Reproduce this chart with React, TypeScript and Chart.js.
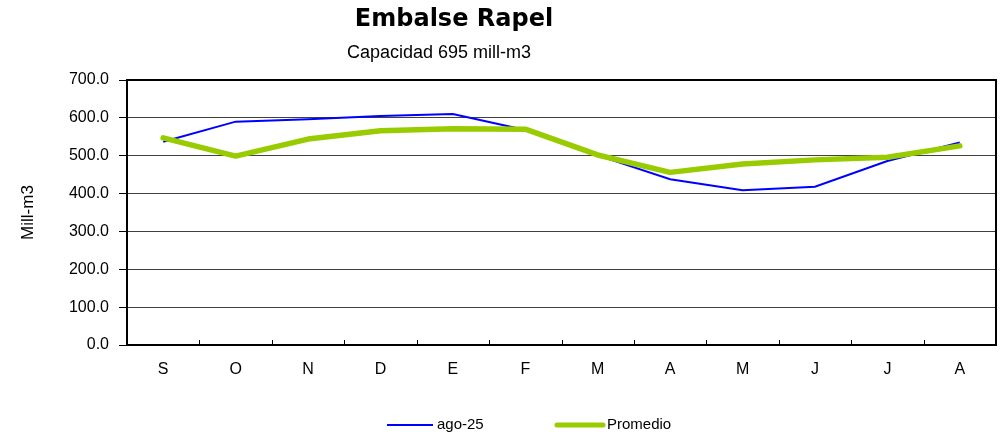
import React, { useEffect, useRef } from "react";
import { Chart, registerables } from "chart.js";

Chart.register(...registerables);

const categories = ["S", "O", "N", "D", "E", "F", "M", "A", "M", "J", "J", "A"];
const seriesActual = [537, 590, 596, 605, 610, 568, 501, 438, 409, 418, 486, 535];
const seriesPromedio = [547, 499, 544, 566, 571, 570, 502, 456, 478, 489, 496, 526];
const seriesLabels = ["ago-25", "Promedio"];
const yMin = 0;
const yMax = 700;
const yStep = 100;
const titleText = "Embalse Rapel";
const subtitleText = "Capacidad 695 mill-m3";
const yAxisTitle = "Mill-m3";

const SANS = '"Liberation Sans", Arial, sans-serif';

const decorPlugin = {
  id: "decor",
  afterDraw(chart: any) {
    const { ctx, chartArea } = chart;
    const { left, right, top, bottom } = chartArea;
    ctx.save();
    // frame top/right
    ctx.strokeStyle = "#000";
    ctx.lineWidth = 2;
    ctx.beginPath();
    ctx.moveTo(left, top);
    ctx.lineTo(right, top);
    ctx.lineTo(right, bottom);
    ctx.stroke();
    // inner category ticks
    const xs = chart.scales.x;
    ctx.lineWidth = 1;
    ctx.beginPath();
    for (let i = 1; i < categories.length; i++) {
      const x = Math.round((xs.getPixelForValue(i - 1) + xs.getPixelForValue(i)) / 2) + 0.5;
      ctx.moveTo(x, bottom - 5);
      ctx.lineTo(x, bottom);
    }
    ctx.stroke();
    // titles
    ctx.fillStyle = "#000";
    ctx.textAlign = "center";
    ctx.textBaseline = "middle";
    ctx.font = 'bold 24px "DejaVu Sans", sans-serif';
    ctx.fillText(titleText, 454, 20);
    ctx.font = "18px " + SANS;
    ctx.fillText(subtitleText, 439, 53);
    // legend
    const ds = chart.data.datasets;
    const items = [
      { x0: 387, x1: 433, tx: 437 },
      { x0: 557, x1: 603, tx: 607 },
    ];
    ctx.font = "15px " + SANS;
    ctx.textAlign = "left";
    items.forEach((it, i) => {
      ctx.strokeStyle = ds[i].borderColor;
      ctx.lineWidth = i === 0 ? 2 : 5;
      ctx.lineCap = i === 0 ? "butt" : "round";
      ctx.beginPath();
      ctx.moveTo(it.x0, 425);
      ctx.lineTo(it.x1, 425);
      ctx.stroke();
      ctx.fillStyle = "#000";
      ctx.fillText(ds[i].label, it.tx, 425);
    });
    ctx.restore();
  },
};

export default function App() {
  const ref = useRef<HTMLCanvasElement>(null);
  useEffect(() => {
    if (!ref.current) return;
    const chart = new Chart(ref.current, {
      type: "line",
      data: {
        labels: categories,
        datasets: [
          {
            label: seriesLabels[0],
            data: seriesActual,
            borderColor: "#0000FF",
            borderWidth: 2,
            pointRadius: 0,
            tension: 0,
            order: 1,
          },
          {
            label: seriesLabels[1],
            data: seriesPromedio,
            borderColor: "#99CC00",
            borderWidth: 5.5,
            borderCapStyle: "round",
            borderJoinStyle: "round",
            pointRadius: 0,
            tension: 0,
            order: 0,
          },
        ],
      },
      options: {
        animation: false,
        responsive: true,
        maintainAspectRatio: false,
        layout: { padding: { top: 80, right: 9, bottom: 0, left: 0 } },
        plugins: {
          legend: { display: false },
          title: { display: false },
          tooltip: { enabled: false },
        },
        scales: {
          x: {
            type: "category",
            offset: true,
            grid: { display: false, drawTicks: false },
            border: { display: true, color: "#000", width: 2 },
            ticks: { color: "#000", font: { family: SANS, size: 16 }, padding: 15, maxRotation: 0 },
            afterFit: (s: any) => {
              s.height = 87;
            },
          },
          y: {
            min: yMin,
            max: yMax,
            ticks: {
              stepSize: yStep,
              color: "#000",
              font: { family: SANS, size: 16 },
              padding: 10,
              callback: (v: any) => Number(v).toFixed(1),
            },
            grid: { color: "#404040", lineWidth: 1, tickColor: "#000", tickLength: 8 },
            border: { display: true, color: "#000", width: 2 },
            title: {
              display: true,
              text: yAxisTitle,
              color: "#000",
              font: { family: SANS, size: 17 },
              padding: { top: 18, bottom: 0 },
            },
            afterFit: (s: any) => {
              s.width = 127;
            },
          },
        },
      },
      plugins: [decorPlugin],
    } as any);
    return () => chart.destroy();
  }, []);
  return (
    <div style={{ position: "absolute", left: 0, top: 0, width: 1005, height: 432 }}>
      <canvas ref={ref} />
    </div>
  );
}
